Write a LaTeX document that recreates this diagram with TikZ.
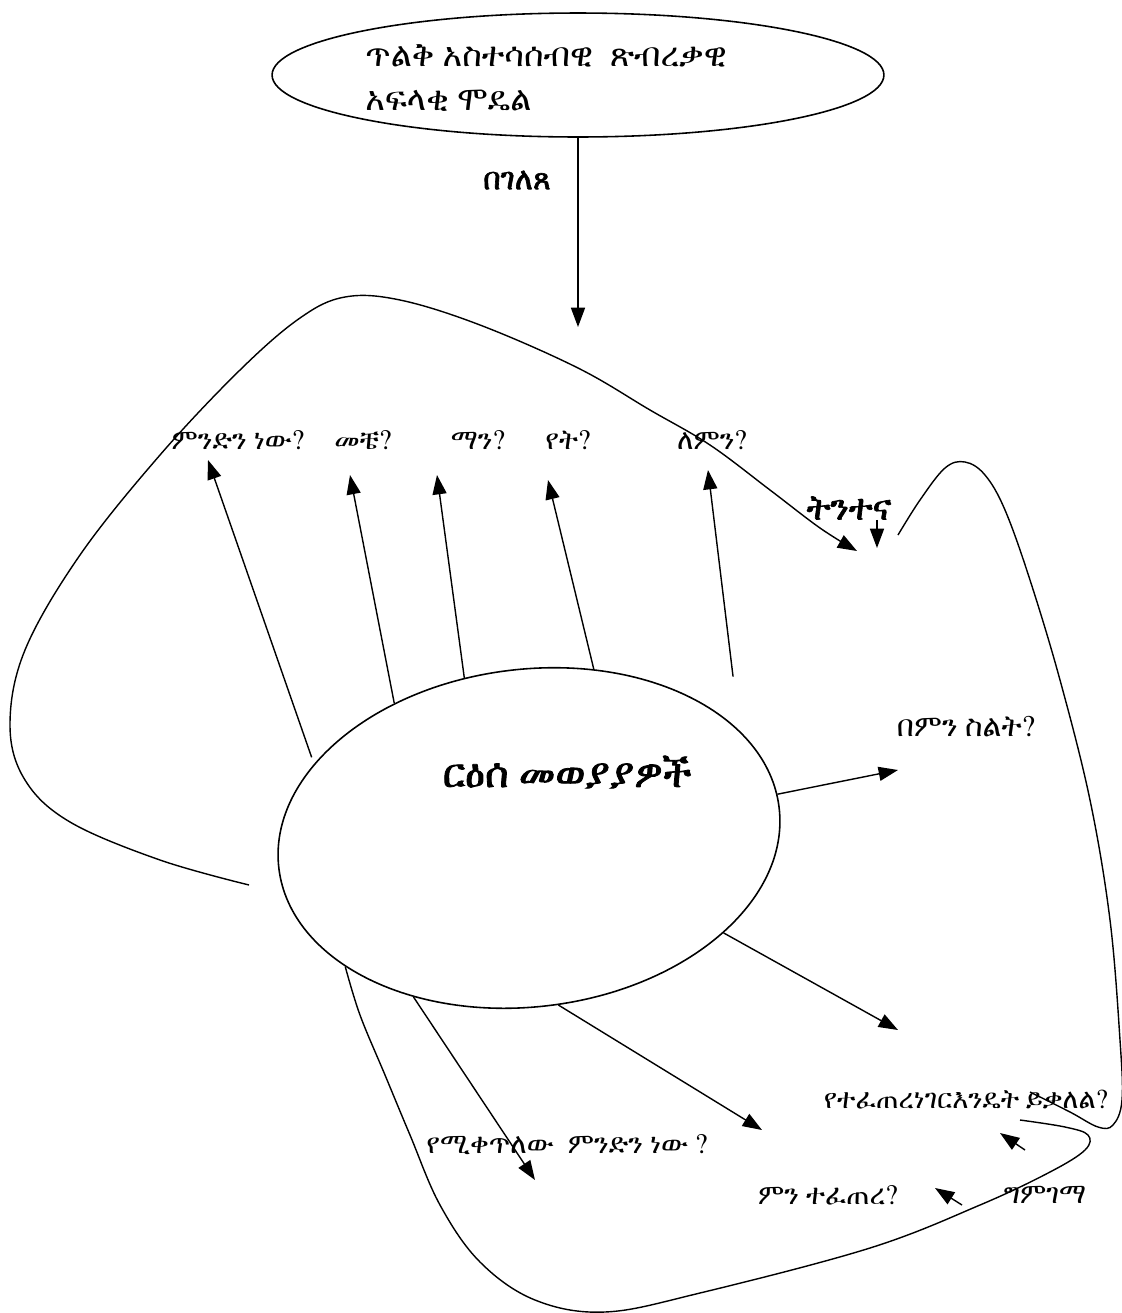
\documentclass[tikz,border=0pt]{standalone}
\usepackage{fontspec}
\usepackage{tikz}
\usetikzlibrary{arrows.meta,shapes.geometric}
\newfontfamily\ethfont{FreeSerif}
\newfontfamily\ethboldfont[FakeBold=2]{FreeSerif}

\tikzset{%
  arr/.style={-{Triangle[length=11pt,width=8pt]}, line width=0.8pt},%
  qtext/.style={font=\ethfont\fontsize{16}{19}\selectfont, inner sep=0pt},%
  loopline/.style={line width=0.8pt}%
}

\begin{document}
\begin{tikzpicture}[x=0.02cm,y=-0.02cm]%
\useasboundingbox (0,0) rectangle (1122,1313);%
% model at the top
\node[draw, ellipse, line width=0.9pt, minimum width=12.24cm, minimum height=2.48cm] (model) at (578,75) {};%
\node[anchor=west, align=left, inner sep=0pt, font=\ethfont\fontsize{19}{25.5}\selectfont] (modeltext) at (365,78) {ጥልቅ አስተሳሰብዊ\ \ ጽብረቃዊ\\አፍላቂ ሞዴል};%
\node[qtext, font=\ethboldfont\fontsize{17.5}{20}\selectfont] (gelets) at (517,180) {በገለጸ};%
\coordinate (drop) at (578,327);%
\draw[arr] (model.south) -- (drop);%
% topics in the middle
\node[draw, ellipse, rotate=7, line width=0.9pt, minimum width=10.08cm, minimum height=6.75cm] (topics) at (529,838) {};%
\node[inner sep=0pt, font=\ethboldfont\fontsize{23}{28}\selectfont] (topicstext) at (567,772) {ርዕሰ መወያያዎች};%
% questions
\node[qtext] (mindin) at (238,440) {ምንድን ነው?};%
\node[qtext] (mechie) at (363,440) {መቼ?};%
\node[qtext] (man) at (478,440) {ማን?};%
\node[qtext] (yet) at (568,440) {የት?};%
\node[qtext] (lemin) at (712,440) {ለምን?};%
\node[qtext, font=\ethboldfont\fontsize{20}{23}\selectfont] (tinta) at (849,508) {ትንተና};%
\node[qtext, font=\ethfont\fontsize{17}{20}\selectfont] (bemin) at (966,727) {በምን ስልት?};%
\node[qtext, font=\ethfont\fontsize{15.5}{18}\selectfont] (yetefetere) at (966,1100) {የተፈጠረነገርእንዴት ይቃለል?};%
\node[qtext] (yemiketlew) at (567,1145) {የሚቀጥለው\ \ ምንድን ነው ?};%
\node[qtext] (mintefetere) at (828,1195) {ምን ተፈጠረ?};%
\node[qtext] (gimgema) at (1045,1195) {ግምገማ};%
% arrow tips
\coordinate (t1) at (208,460);%
\coordinate (t2) at (350,475);%
\coordinate (t3) at (437,475);%
\coordinate (t4) at (548,480);%
\coordinate (t5) at (708,470);%
\coordinate (t6) at (898,770);%
\coordinate (t7) at (898,1030);%
\coordinate (t8) at (762,1130);%
\coordinate (t9) at (535,1180);%
\draw[arr, shorten <=4pt] (topics.154) -- (t1);%
\draw[arr] (topics.128) -- (t2);%
\draw[arr] (topics.105) -- (t3);%
\draw[arr] (topics.62) -- (t4);%
\draw[arr, shorten <=31pt] (topics.20) -- (t5);%
\draw[arr] (topics.3) -- (t6);%
\draw[arr] (topics.-33) -- (t7);%
\draw[arr] (topics.-87) -- (t8);%
\draw[arr] (topics.-133) -- (t9);%
% tinta
\coordinate (tintatip) at (877,548);%
\draw[arr] (tinta.south -| tintatip) -- (tintatip);%
% gimgema arrows
\coordinate (g1) at (1025,1150);%
\coordinate (g1tip) at (1000,1133);%
\coordinate (g2) at (962,1205);%
\coordinate (g2tip) at (935,1188);%
\draw[arr] (g1) -- (g1tip);%
\draw[arr] (g2) -- (g2tip);%
% big loops
\coordinate (leftend) at (249,885);%
\coordinate (loopa) at (857,551);%
\draw[loopline, -{Triangle[length=11pt,width=8pt]}] plot[smooth, tension=0.6] coordinates {(leftend) (160,860) (70,822) (25,780) (10,725) (25,650) (80,555) (160,455) (240,370) (300,318) (345,297) (400,300) (480,325) (578,368) (650,410) (710,445) (770,490) (820,528) (loopa)};%
\coordinate (rightstart) at (898,535);%
\coordinate (rightend) at (1030,1092);%
\draw[loopline] plot[smooth, tension=0.6] coordinates {(rightstart) (920,500) (945,468) (965,462) (985,475) (1005,510) (1030,580) (1060,680) (1090,800) (1110,920) (1120,1040) (1122,1100) (1113,1125) (1098,1127) (1070,1112) (rightend)};%
\coordinate (bottomend) at (1020,1120);%
\draw[loopline] plot[smooth, tension=0.6] coordinates {(topics.-152) (360,1015) (385,1075) (410,1135) (440,1205) (480,1262) (535,1300) (605,1312) (700,1293) (870,1248) (980,1205) (1050,1172) (1085,1150) (1088,1135) (1065,1127) (bottomend)};%
\end{tikzpicture}
\end{document}
